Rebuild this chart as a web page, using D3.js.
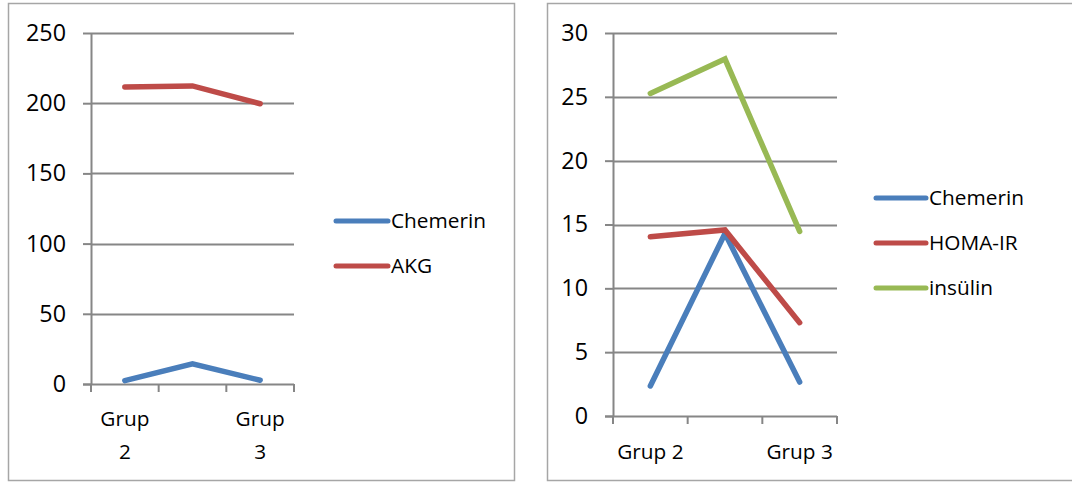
<!DOCTYPE html>
<html><head><meta charset="utf-8">
<script src="https://cdn.jsdelivr.net/npm/d3@7"></script>
<style>
html,body{margin:0;padding:0;background:#fff;}
svg text{font-family:"Open Sans",sans-serif;fill:#000;}
</style></head>
<body>
<svg id="c" width="1072" height="483"></svg>
<script>
// Data
const categories = ["Grup 2", "Grup 1", "Grup 3"];
const shownLabels = ["Grup 2", "", "Grup 3"];

const leftSeriesNames = ["Chemerin", "AKG"];
const leftChemerin = [2.4, 14.3, 2.7];
const leftAKG = [211.5, 212.3, 199.6];
const leftTicks = [0, 50, 100, 150, 200, 250];

const rightSeriesNames = ["Chemerin", "HOMA-IR", "insülin"];
const rightChemerin = [2.35, 14.3, 2.66];
const rightHOMA = [14.04, 14.57, 7.31];
const rightInsulin = [25.27, 27.96, 14.46];
const rightTicks = [0, 5, 10, 15, 20, 25, 30];

const colors = {blue:"#4a7ebb", red:"#be4b48", green:"#98b954"};
const gridColor = "#868686";

const svg = d3.select("#c");

// Fit a font size so a sample string reaches a target width
function fitSize(sample, target){
  const t = svg.append("text").style("font-size","100px").text(sample);
  const w = t.node().getComputedTextLength();
  t.remove();
  return 100 * target / w;
}
const tickFS = fitSize("250", 40);
const textFS = fitSize("Chemerin", 95);

function drawChart(o){
  const g = svg.append("g");
  g.append("rect").attr("x", o.box[0]+0.5).attr("y", o.box[1]+0.5)
    .attr("width", o.box[2]).attr("height", o.box[3])
    .attr("fill","none").attr("stroke","#a6a6a6").attr("stroke-width",1.5);

  const x = d3.scaleBand().domain(categories).range([o.x0, o.x1]).padding(0);
  const y = d3.scaleLinear().domain([0, o.max]).range([o.y0, o.y1]);

  g.selectAll(".grid").data(o.ticks.slice(1)).join("line")
    .attr("x1", o.x0).attr("x2", o.x1)
    .attr("y1", d=>Math.round(y(d))+0.5).attr("y2", d=>Math.round(y(d))+0.5)
    .attr("stroke", gridColor).attr("stroke-width",2);

  const ya = g.append("g").attr("transform", `translate(${o.x0},0)`)
    .call(d3.axisLeft(y).tickValues(o.ticks).tickSize(8).tickSizeOuter(0).tickPadding(17));
  ya.attr("font-size", null).attr("font-family", null);
  ya.select(".domain").attr("stroke", gridColor).attr("stroke-width",2);
  ya.selectAll(".tick line").attr("stroke", gridColor).attr("stroke-width",2);
  ya.selectAll(".tick text").style("font-size", tickFS+"px").style("font-family","'Open Sans'").style("fill","#000");

  const xa = g.append("g").attr("transform", `translate(0,${o.y0})`);
  xa.append("line").attr("x1", o.x0 - 8).attr("x2", o.x1).attr("y1",0.5).attr("y2",0.5)
    .attr("stroke", gridColor).attr("stroke-width",2);
  const bounds = [o.x0].concat(categories.map(c=>x(c)+x.bandwidth()));
  xa.selectAll(".xt").data(bounds).join("line")
    .attr("x1", d=>d).attr("x2", d=>d).attr("y1",0).attr("y2",8)
    .attr("stroke", gridColor).attr("stroke-width",2);
  const lab = xa.selectAll(".xl").data(categories).join("text")
    .attr("text-anchor","middle").style("font-size", textFS+"px")
    .attr("transform", c=>`translate(${x(c)+x.bandwidth()/2},0)`);
  lab.each(function(c, i){
    const t = d3.select(this);
    const s = shownLabels[i];
    if(!s) return;
    const parts = o.wrap ? s.split(" ") : [s];
    parts.forEach((p, j)=>{
      t.append("tspan").attr("x",0).attr("y", o.labY + j*33).attr("dy","0.35em").text(p);
    });
  });

  const line = d3.line().x((d,i)=>x(categories[i])+x.bandwidth()/2).y(d=>y(d));
  o.series.forEach(s=>{
    g.append("path").datum(s.values).attr("d", line)
      .attr("fill","none").attr("stroke", s.color).attr("stroke-width",5.5)
      .attr("stroke-linecap","round").attr("stroke-linejoin","miter");
  });

  o.series.forEach((s, i)=>{
    const ly = o.legY + i*45;
    g.append("line").attr("x1", o.legX).attr("x2", o.legX + o.legW)
      .attr("y1", ly).attr("y2", ly).attr("stroke", s.color).attr("stroke-width",5)
      .attr("stroke-linecap","round");
    g.append("text").attr("x", o.legX + o.legW + 3).attr("y", ly).attr("dy","0.36em")
      .style("font-size", textFS+"px").text(s.name);
  });
}

drawChart({
  box:[8,3,506,477],
  x0:91, x1:294, y0:384, y1:33, max:250, ticks:leftTicks, wrap:true, labY:35,
  series:[{name:leftSeriesNames[0], values:leftChemerin, color:colors.blue},
          {name:leftSeriesNames[1], values:leftAKG, color:colors.red}],
  legX:336, legW:52, legY:221
});
drawChart({
  box:[547,3,530,477],
  x0:613, x1:837, y0:416, y1:33, max:30, ticks:rightTicks, wrap:false, labY:36,
  series:[{name:rightSeriesNames[0], values:rightChemerin, color:colors.blue},
          {name:rightSeriesNames[1], values:rightHOMA, color:colors.red},
          {name:rightSeriesNames[2], values:rightInsulin, color:colors.green}],
  legX:876, legW:50, legY:198
});
</script>
</body></html>
